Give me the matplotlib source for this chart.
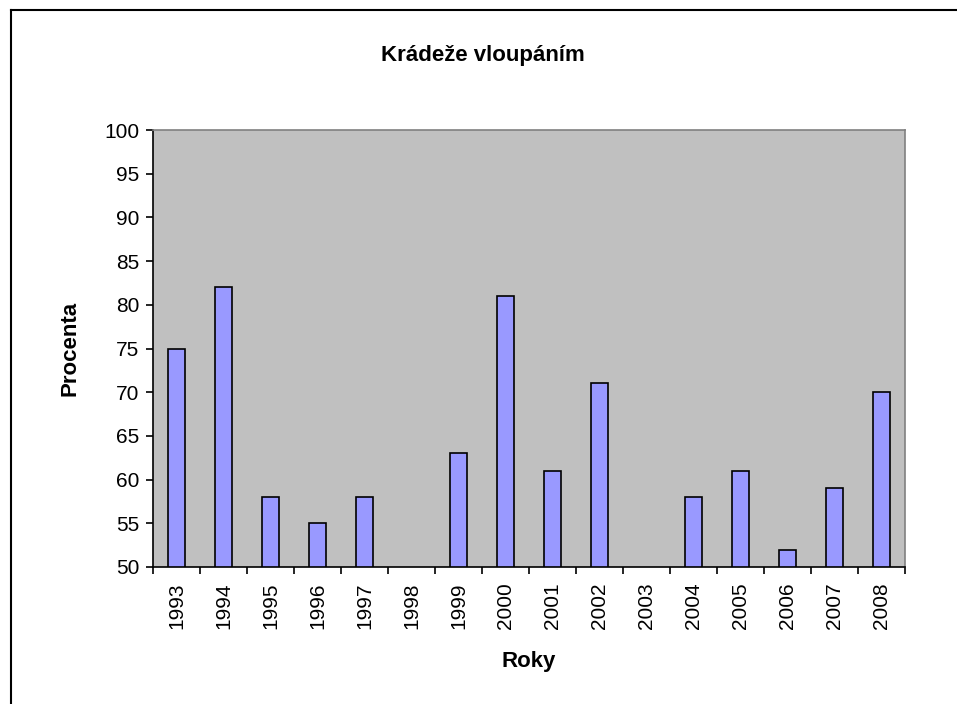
import matplotlib

matplotlib.use("Agg")
import matplotlib.pyplot as plt
from matplotlib.lines import Line2D
import numpy as np

plt.rcParams["font.family"] = ["Liberation Sans", "DejaVu Sans"]

years = ["1993", "1994", "1995", "1996", "1997", "1998", "1999", "2000",
         "2001", "2002", "2003", "2004", "2005", "2006", "2007", "2008"]
# 1998 a 2003 bez údaje
procenta = [75, 82, 58, 55, 58, np.nan, 63, 81, 61, 71, np.nan, 58, 61, 52, 59, 70]

W, H = 957, 704
fig = plt.figure(figsize=(W / 100, H / 100), dpi=100)
ax = fig.add_axes([153 / W, 1 - 567 / H, (905 - 153) / W, (567 - 130) / H])

x = np.arange(len(years))
vals = np.array(procenta, dtype=float)
mask = ~np.isnan(vals)
ax.bar(x[mask], vals[mask] - 50, bottom=50, width=0.37, color="#9999FF",
       edgecolor="black", linewidth=1.2, zorder=3)

ax.set_facecolor("#C0C0C0")
ax.set_xlim(-0.5, len(years) - 0.5)
ax.set_ylim(50, 100)
ax.set_yticks(range(50, 101, 5))
ax.set_xticks(x)
ax.set_xticklabels(years, rotation=90, fontsize=15)
ax.tick_params(axis="x", which="major", length=0, pad=11)
ax.set_xticks(np.arange(-0.5, len(years), 1), minor=True)
ax.tick_params(axis="x", which="minor", length=5, width=1.2, direction="out")
ax.tick_params(axis="y", length=5, width=1.2, direction="out", labelsize=15, pad=5)

for side in ("top", "right"):
    ax.spines[side].set_color("#808080")
    ax.spines[side].set_linewidth(1.2)
for side in ("left", "bottom"):
    ax.spines[side].set_color("black")
    ax.spines[side].set_linewidth(1.2)

ax.set_xlabel("Roky", fontsize=16, fontweight="bold", labelpad=16)
ax.set_ylabel("Procenta", fontsize=16, fontweight="bold", labelpad=17)
fig.text(483 / W, 1 - 55 / H, "Krádeže vloupáním", ha="center", va="center",
         fontsize=16, fontweight="bold")

# rámeček grafu (vidět jen horní a levá hrana)
fig.add_artist(Line2D([11 / W, 11 / W], [0, 1 - 10 / H], transform=fig.transFigure,
                      color="black", linewidth=1.5))
fig.add_artist(Line2D([11 / W, 1], [1 - 10 / H, 1 - 10 / H], transform=fig.transFigure,
                      color="black", linewidth=1.5))

fig.savefig("out.png", dpi=100)
